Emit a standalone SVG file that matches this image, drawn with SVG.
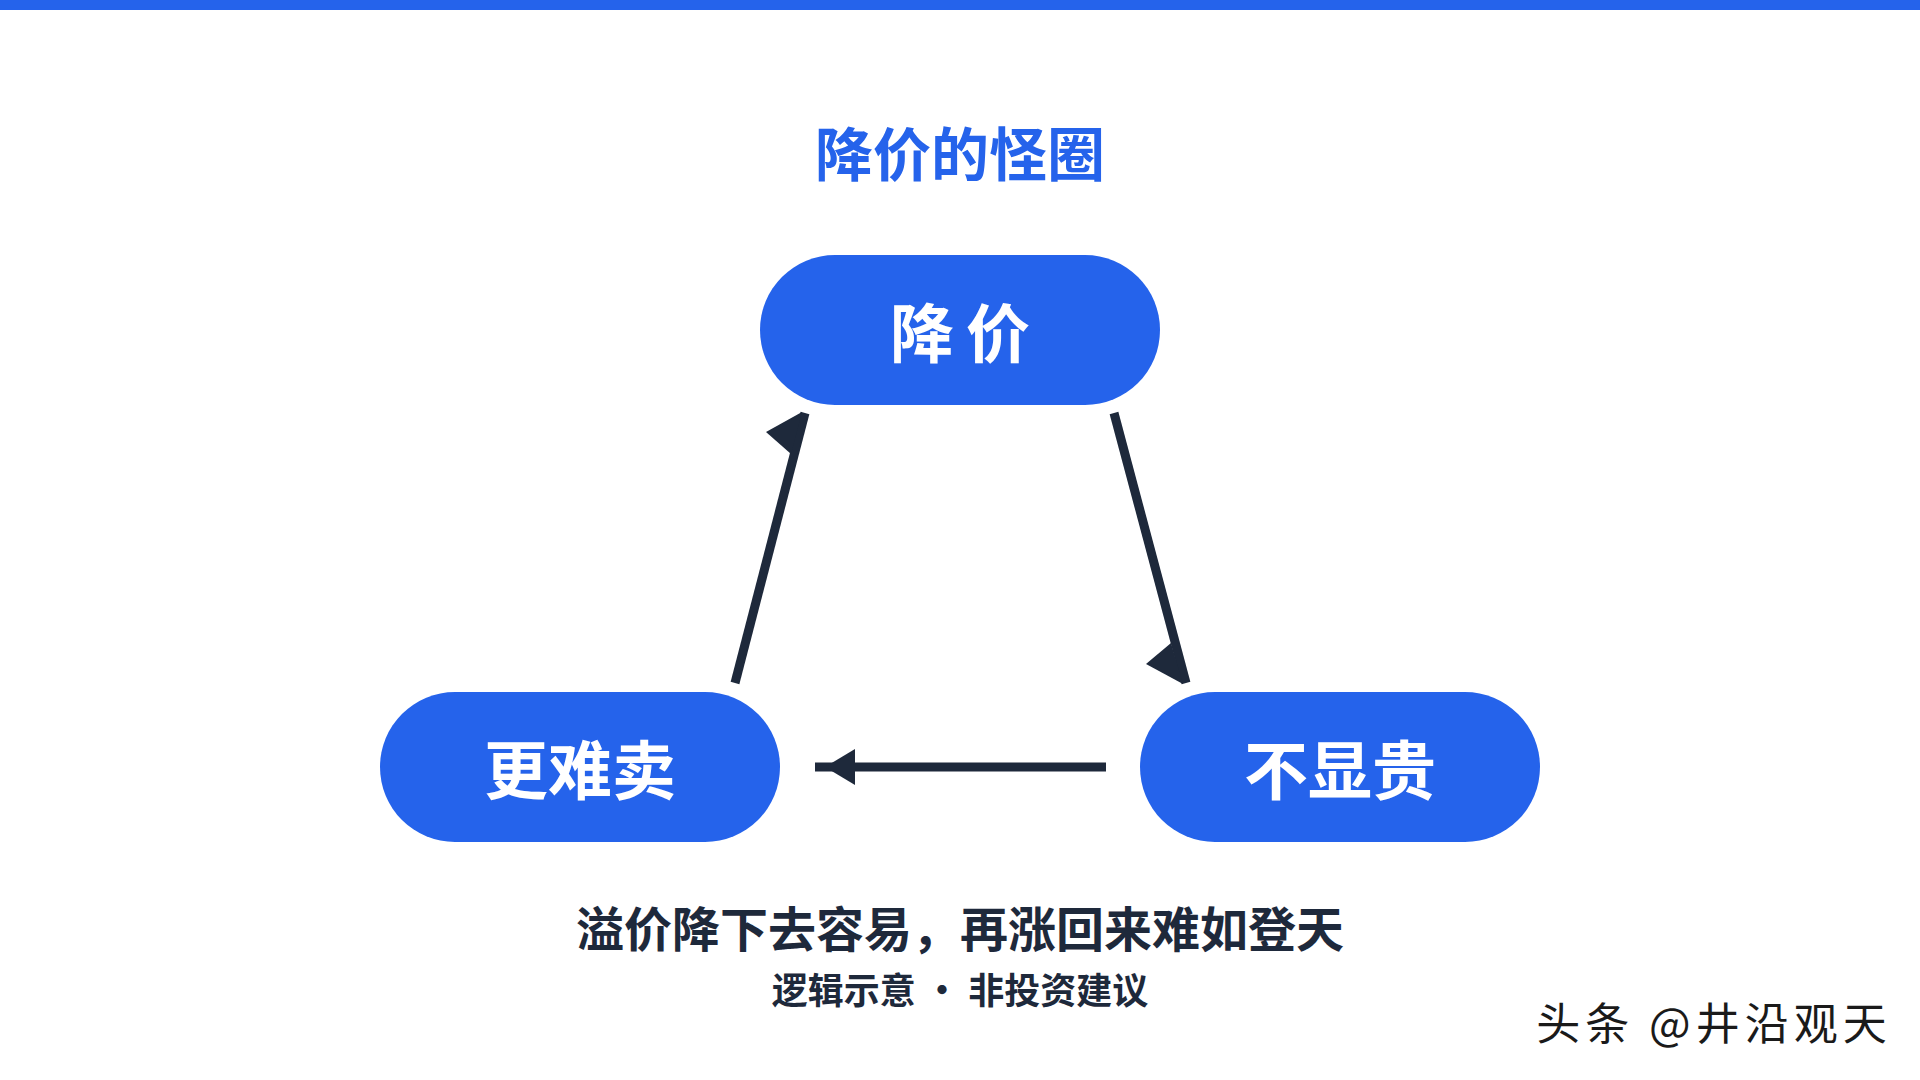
<svg xmlns="http://www.w3.org/2000/svg" width="1920" height="1080" viewBox="0 0 1920 1080">
<style>
.cjk{font-family:"Noto Sans CJK SC","Noto Sans",sans-serif;}
.node rect{fill:#2563EB;}
.node text{fill:#FFFFFF;font-size:64px;font-weight:700;text-anchor:middle;}
.edge{stroke:#1E293B;stroke-width:9;fill:none;}
.head{fill:#1E293B;}
</style>
<rect x="0" y="0" width="1920" height="10" fill="#2563EB"/>
<text class="cjk" x="960" y="176" font-size="58" font-weight="700" fill="#2563EB" text-anchor="middle">降价的怪圈</text>

<g id="node-jiangjia" class="node">
  <rect x="760" y="255" width="400" height="150" rx="75" ry="75"/>
  <text class="cjk" x="922 998" y="357">降价</text>
</g>
<g id="node-gengnanmai" class="node">
  <rect x="380" y="692" width="400" height="150" rx="75" ry="75"/>
  <text class="cjk" x="580" y="794">更难卖</text>
</g>
<g id="node-buxiangui" class="node">
  <rect x="1140" y="692" width="400" height="150" rx="75" ry="75"/>
  <text class="cjk" x="1340" y="794">不显贵</text>
</g>

<g id="connectors">
  <line class="edge" x1="1114" y1="413" x2="1186" y2="683"/>
  <polygon class="head" points="1183,684 1146,664 1171,643"/>
  <line class="edge" x1="1106" y1="767" x2="815" y2="767"/>
  <polygon class="head" points="825,767 855,749 855,785"/>
  <line class="edge" x1="735" y1="683" x2="805" y2="413"/>
  <polygon class="head" points="802,412 766,432 791,454"/>
</g>

<text class="cjk" x="960" y="947" font-size="48" font-weight="700" fill="#1E293B" text-anchor="middle">溢价降下去容易，再涨回来难如登天</text>
<text class="cjk" x="960" y="1004" font-size="36" font-weight="700" fill="#1E293B" text-anchor="middle">逻辑示意 · 非投资建议</text>
<text class="cjk" x="1714" y="1040" font-size="44" font-weight="400" fill="#1A1A1A" text-anchor="middle" letter-spacing="5">头条 @井沿观天</text>
</svg>
